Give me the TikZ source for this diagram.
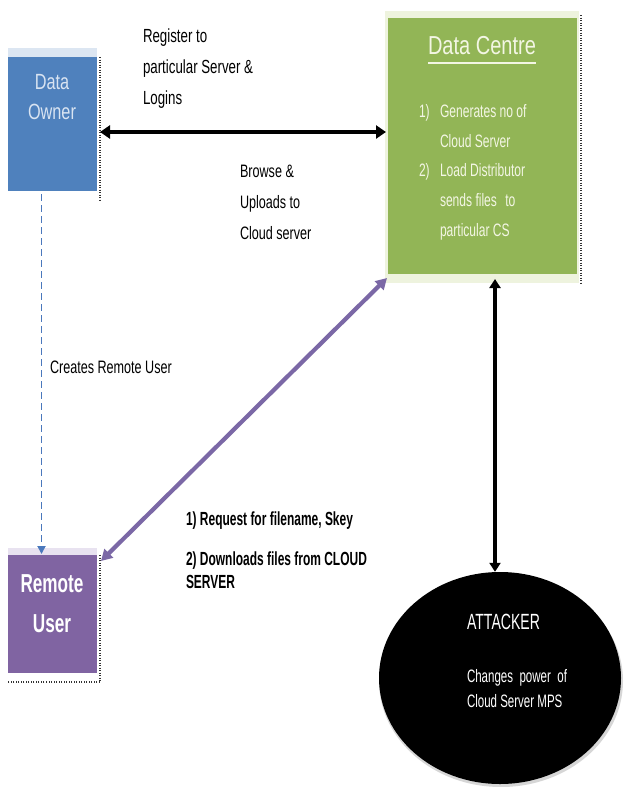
\documentclass[tikz,border=0pt]{standalone}
\usepackage{fontspec}
\setmainfont{Liberation Sans}
\newfontfamily\lblfont[FakeStretch=0.70]{Liberation Sans}
\newfontfamily\reqfont[FakeStretch=0.63]{Liberation Sans}
\newfontfamily\boxfont[FakeStretch=0.74]{Liberation Sans}
\newfontfamily\ruboxfont[FakeStretch=0.66]{Liberation Sans}
\newfontfamily\titlefont[FakeStretch=0.77]{Liberation Sans}
\newfontfamily\listfont[FakeStretch=0.67]{Liberation Sans}
\newfontfamily\atkfont[FakeStretch=0.64]{Liberation Sans}
\usetikzlibrary{arrows.meta,calc,shapes.geometric}
\definecolor{ownerblue}{HTML}{4F81BD}
\definecolor{ownerpale}{HTML}{DCE6F2}
\definecolor{ownertext}{HTML}{D9E4F2}
\definecolor{centregreen}{HTML}{92B556}
\definecolor{centrepale}{HTML}{EEF3DE}
\definecolor{centretext}{HTML}{F3F6E4}
\definecolor{remotepurple}{HTML}{8064A2}
\definecolor{remotepale}{HTML}{E8E2F0}
\definecolor{arrowpurple}{HTML}{7B68A6}
\definecolor{dashblue}{HTML}{4A78BC}
\definecolor{shadowgray}{HTML}{D6D6D6}
\tikzset{
  box/.style={draw=none, inner sep=0pt, outer sep=0pt},
  lbl/.style={inner sep=0pt, outer sep=0pt, anchor=base west, text=black},
  clbl/.style={inner sep=0pt, outer sep=0pt, anchor=base},
  dbl/.style={{Triangle[length=10pt,width=13pt]}-{Triangle[length=10pt,width=13pt]}, line width=4pt},
  dblv/.style={{Triangle[length=9pt,width=11pt]}-{Triangle[length=9pt,width=11pt]}, line width=3.2pt},
  purarrow/.style={{Triangle[length=11pt,width=12pt]}-{Triangle[length=11pt,width=12pt]}, line width=4.2pt, draw=arrowpurple},
  dasharrow/.style={-{Triangle[length=8pt,width=8pt]}, line width=1.8pt, draw=dashblue, dash pattern=on 7pt off 4pt},
  dotedge/.style={line width=1.3pt, dash pattern=on 1pt off 1.5pt, draw=black!80},
}
\begin{document}
\begin{tikzpicture}[x=1pt,y=-1pt]
\useasboundingbox (0,0) rectangle (627,787);
\fill[white] (0,0) rectangle (627,787);

% pale bands behind boxes
\fill[ownerpale] (8,48) rectangle (97,57);
\fill[centrepale] (385,11) rectangle (579,283);
\fill[remotepale] (8,548) rectangle (97,555);

% boxes
\node[box, fill=ownerblue, minimum width=89pt, minimum height=134pt] (owner) at (52.5,124) {};
\node[box, fill=centregreen, minimum width=189pt, minimum height=256pt] (centre) at (482.5,146) {};
\node[box, fill=remotepurple, minimum width=89pt, minimum height=118pt] (remote) at (52.5,614) {};

% attacker ellipse with faint shadow
\fill[shadowgray] (501,681) ellipse [x radius=122pt, y radius=106pt];
\node[ellipse, fill=black, inner sep=0pt, minimum width=242pt, minimum height=212pt] (attacker) at (500,678) {};

% dotted edges
\draw[dotedge] ($(owner.north east)+(3,0)$) -- ($(owner.south east)+(3,9)$);
\draw[dotedge] ($(centre.north east)+(4,-3)$) -- ($(centre.south east)+(4,9)$);
\draw[dotedge] ($(remote.north east)+(3,0)$) -- ($(remote.south east)+(3,9)$) -- ($(remote.south west)+(0,9)$);

% box texts
\node[clbl, text=ownertext, font={\boxfont\fontsize{22}{22}\selectfont}] (ownerl1) at (52,89) {Data};
\node[clbl, text=ownertext, font={\boxfont\fontsize{22}{22}\selectfont}] (ownerl2) at (52,119) {Owner};

\node[clbl, text=white, font={\ruboxfont\bfseries\fontsize{26}{26}\selectfont}] (remotel1) at (52,592) {Remote};
\node[clbl, text=white, font={\ruboxfont\bfseries\fontsize{26}{26}\selectfont}] (remotel2) at (52,632) {User};

\node[clbl, text=centretext, font={\titlefont\fontsize{26}{26}\selectfont}] (ctitle) at (482,54) {Data Centre};
\draw[centretext, line width=2pt] ([yshift=-9pt]ctitle.base west) -- ([yshift=-9pt]ctitle.base east);

\begin{scope}[every node/.style={lbl, text=centretext, font={\listfont\fontsize{18}{18}\selectfont}}]
\node (cn1) at (419,117) {1)};
\node (ct1) at (440,117) {Generates no of};
\node (ct2) at (440,147) {Cloud Server};
\node (cn2) at (419,176) {2)};
\node (ct3) at (440,176) {Load Distributor};
\node (ct4) at (440,206) {sends files\hspace{5pt} to};
\node (ct5) at (440,236) {particular CS};
\end{scope}

\node[clbl, anchor=base west, text=white, font={\atkfont\fontsize{22}{22}\selectfont}] (atk1) at (467,629) {ATTACKER};
\node[clbl, anchor=base west, text=white, font={\atkfont\fontsize{18}{18}\selectfont}] (atk2) at (467,682) {\hbox to 100pt{Changes\hfil power\hfil of}};
\node[clbl, anchor=base west, text=white, font={\atkfont\fontsize{18}{18}\selectfont}] (atk3) at (467,707) {Cloud Server MPS};

% connector labels
\begin{scope}[every node/.style={lbl, font={\lblfont\fontsize{19}{19}\selectfont}}]
\node (reg1) at (143,42) {Register to};
\node (reg2) at (143,73) {particular Server \&};
\node (reg3) at (143,104) {Logins};
\end{scope}
\begin{scope}[every node/.style={lbl, font={\lblfont\fontsize{18}{18}\selectfont}}]
\node (br1) at (240,177) {Browse \&};
\node (br2) at (240,208) {Uploads to};
\node (br3) at (240,239) {Cloud server};
\node (cru) at (50,373) {Creates Remote User};
\end{scope}
\begin{scope}[every node/.style={lbl, font={\reqfont\bfseries\fontsize{19}{19}\selectfont}}]
\node (rq1) at (186,525) {1) Request for filename, Skey};
\node (rq2) at (186,565) {2) Downloads files from CLOUD};
\node (rq3) at (186,588) {SERVER};
\end{scope}

% connectors
\coordinate (hy) at (0,132);
\coordinate (vx) at (495,0);
\draw[dbl] ($(owner.east |- hy)+(3,0)$) -- ($(centre.west |- hy)+(-2,0)$);
\draw[dblv] ($(centre.south -| vx)+(0,5)$) -- (attacker.north -| vx);
\draw[purarrow] ($(centre.south west)+(-1,4)$) -- ($(remote.north east)+(4,6)$);
\draw[dasharrow] ($(owner.south)+(-11,3)$) -- ($(remote.north)+(-11,-1)$);
\end{tikzpicture}
\end{document}
